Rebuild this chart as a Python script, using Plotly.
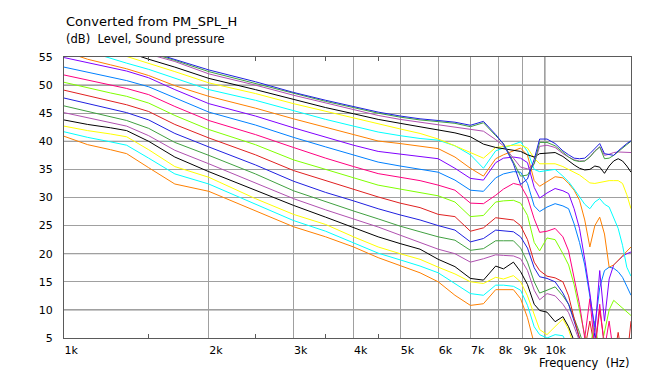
import math
import plotly.graph_objects as go

# ---------------- data ----------------
FREQ = [1000, 1120, 1250, 1350, 1500, 1700, 2000, 2500, 3000, 3500, 4000, 4500, 5000, 5500,
        6000, 6500, 7000, 7450, 7900, 8200, 8600, 8900, 9200, 9500, 9750, 10100, 10500, 10900,
        11200, 11500, 11800, 12100, 12400, 12700, 13000, 13300, 13600, 13900, 14200, 14500,
        14800, 15100]

S01 = [40.9, 39.4, 38.5, 37.8, 35.3, 32.4, 31.1, 27.7, 24.8, 23.0, 21.2, 19.3, 17.9, 16.6,
       15.0, 12.6, 10.8, 11.1, 13.6, 13.6, 13.6, 12.0, 8.6, 4.0, 2.5, 2.0, 1.5, 1.0, 1.0, 1.0,
       0.5, 0.5, 0.5, 0.5, 0.5, 0.5, 0.5, 0.5, 0.5, 0.5, 0.5, 0.5]
S02 = [41.7, 40.7, 39.9, 39.3, 37.0, 34.2, 32.4, 28.8, 25.9, 24.0, 22.0, 20.1, 18.9, 17.8,
       16.6, 14.7, 12.9, 12.6, 14.4, 14.4, 14.2, 13.5, 10.8, 7.0, 5.6, 5.0, 5.6, 5.4, 3.5, 1.5,
       1.0, 0.5, 0.5, 0.5, 0.5, 0.5, 0.5, 0.5, 0.5, 0.5, 0.5, 0.5]
S03 = [42.7, 41.9, 41.3, 40.8, 38.5, 35.5, 33.6, 29.8, 27.0, 25.2, 23.0, 21.2, 20.0, 19.0,
       17.6, 16.4, 15.0, 14.7, 15.8, 15.5, 16.1, 15.0, 12.5, 9.0, 6.5, 5.6, 7.0, 8.4, 6.5, 3.5,
       1.5, 1.0, 0.5, 0.5, 0.5, 0.5, 0.5, 0.5, 0.5, 0.5, 0.5, 0.5]
S04 = [43.8, 43.0, 42.4, 41.9, 40.0, 37.2, 34.6, 31.3, 28.6, 26.5, 24.6, 23.0, 21.8, 20.8,
       19.0, 17.7, 15.6, 15.3, 17.8, 17.3, 18.5, 16.8, 14.5, 11.0, 9.9, 9.6, 7.9, 8.8, 7.0, 4.5,
       2.0, 1.0, 0.5, 0.5, 0.5, 0.5, 0.5, 0.5, 0.5, 0.5, 0.5, 0.5]
S05 = [45.1, 44.2, 43.3, 42.7, 41.0, 38.4, 36.0, 32.6, 29.8, 27.8, 26.2, 24.75, 23.3, 22.0,
       20.8, 20.0, 18.5, 19.1, 19.8, 19.7, 19.6, 19.1, 17.0, 13.5, 11.8, 12.9, 12.5, 11.0, 9.5,
       7.0, 4.5, 2.0, 0.5, 3.0, 0.5, 0.5, 0.5, 0.5, 0.5, 0.5, 0.5, 0.5]
S06 = [46.3, 45.3, 44.3, 43.7, 42.3, 39.8, 37.5, 34.2, 31.2, 29.2, 27.6, 26.2, 24.9, 23.9,
       23.0, 22.4, 20.6, 20.9, 22.3, 22.3, 22.3, 21.0, 18.5, 15.0, 13.0, 13.5, 14.1, 12.5, 11.0,
       8.5, 6.0, 3.0, 0.5, 0.5, 4.0, 0.5, 0.5, 0.5, 0.5, 0.5, 0.5, 0.5]
S07 = [47.7, 46.7, 45.7, 45.1, 43.8, 41.4, 39.0, 35.8, 32.9, 30.9, 29.4, 28.0, 26.9, 26.0,
       25.0, 24.2, 22.1, 22.7, 24.2, 24.1, 23.9, 23.0, 21.0, 17.5, 15.9, 15.6, 15.0, 13.0, 11.0,
       8.0, 5.0, 2.0, 0.5, 6.0, 0.5, 0.5, 0.5, 0.5, 0.5, 0.5, 0.5, 0.5]
S08 = [49.1, 48.1, 47.1, 46.5, 45.3, 43.0, 40.6, 37.6, 34.8, 33.0, 31.5, 30.1, 29.0, 28.2,
       27.0, 26.6, 24.0, 24.6, 26.4, 26.2, 26.0, 25.0, 22.5, 18.5, 17.0, 16.0, 15.7, 15.0, 12.5,
       8.5, 5.0, 3.0, 8.0, 3.0, 10.0, 4.0, 1.0, 1.0, 6.0, 1.0, 1.0, 8.0]
S09 = [50.5, 49.5, 48.6, 48.0, 46.8, 44.6, 42.1, 39.4, 36.7, 35.0, 33.5, 32.2, 31.5, 30.9,
       30.3, 29.2, 26.6, 26.8, 29.2, 29.4, 29.5, 29.0, 26.8, 22.0, 20.5, 22.8, 22.5, 20.0, 18.0,
       14.5, 10.0, 5.5, 3.0, 8.0, 2.0, 6.0, 10.0, 11.7, 11.0, 10.2, 9.5, 9.0]
S10 = [51.8, 50.9, 50.0, 49.4, 48.3, 46.2, 43.7, 41.2, 38.9, 37.0, 35.5, 34.25, 33.6, 33.0,
       32.2, 31.3, 29.0, 28.9, 30.4, 31.5, 32.5, 32.2, 30.0, 26.2, 23.8, 24.0, 24.5, 23.0, 20.5,
       16.0, 11.0, 5.0, 12.0, 3.0, 11.0, 3.0, 8.0, 2.0, 5.0, 1.0, 1.0, 0.5]
S11 = [53.2, 52.3, 51.4, 50.8, 49.7, 47.7, 45.2, 42.9, 40.7, 39.0, 37.6, 36.3, 35.6, 35.0,
       34.5, 33.1, 31.3, 31.1, 33.5, 34.2, 34.6, 34.5, 32.5, 28.5, 27.5, 28.3, 28.9, 28.5, 28.0,
       25.3, 22.0, 18.0, 12.0, 7.0, 14.0, 17.0, 17.6, 17.4, 16.8, 15.8, 14.2, 12.6]
S12 = [54.9, 54.0, 53.1, 52.5, 51.3, 49.2, 46.7, 44.5, 42.4, 40.7, 39.3, 38.2, 37.7, 37.3,
       36.9, 35.2, 33.4, 33.1, 36.2, 37.0, 37.2, 37.0, 36.2, 31.8, 29.9, 30.8, 31.6, 31.2, 30.7,
       28.0, 24.5, 19.0, 13.0, 6.0, 17.0, 8.0, 15.5, 18.0, 18.8, 19.5, 20.0, 20.3]
S13 = [56.0, 54.6, 53.6, 52.9, 51.7, 49.9, 48.0, 45.9, 44.0, 42.5, 41.2, 40.05, 39.6, 39.15,
       38.7, 37.2, 35.2, 33.8, 36.9, 37.6, 38.3, 38.8, 37.5, 33.0, 32.0, 32.8, 33.7, 33.5, 32.5,
       31.3, 29.5, 26.0, 21.2, 25.0, 26.5, 23.5, 17.6, 18.0, 18.8, 19.5, 20.3, 21.2]
S14 = [57.3, 56.0, 54.7, 53.9, 52.8, 51.2, 49.2, 47.3, 45.4, 43.9, 42.7, 41.65, 41.0, 40.5,
       40.2, 39.2, 37.6, 35.2, 38.3, 38.8, 39.5, 39.9, 38.2, 35.0, 34.6, 34.8, 35.0, 33.8, 32.8,
       31.5, 30.2, 28.8, 28.0, 29.2, 29.8, 28.8, 28.3, 26.5, 24.5, 21.5, 17.6, 16.0]
S15 = [58.5, 57.3, 56.0, 55.1, 53.9, 52.4, 50.4, 48.5, 46.7, 45.3, 44.1, 43.1, 42.2, 41.4,
       40.4, 39.2, 38.0, 37.0, 38.9, 39.1, 39.3, 39.3, 38.8, 37.0, 36.0, 36.0, 36.0, 35.5, 35.0,
       34.5, 34.0, 33.3, 32.6, 32.5, 32.7, 32.8, 33.0, 33.0, 33.0, 32.5, 30.5, 28.0]
S16 = [59.3, 58.1, 56.9, 55.9, 54.6, 53.2, 51.2, 49.2, 47.5, 46.0, 44.9, 43.9, 43.2, 42.6,
       42.0, 41.5, 40.8, 39.5, 38.9, 38.7, 38.5, 38.2, 37.6, 37.2, 37.8, 37.9, 38.0, 37.3, 36.5,
       35.8, 35.2, 34.9, 35.0, 35.6, 35.4, 34.3, 35.6, 36.5, 36.9, 36.5, 35.6, 34.5]
S17 = [60.2, 59.0, 57.8, 56.9, 55.5, 54.2, 52.0, 50.0, 48.2, 46.8, 45.6, 44.6, 43.9, 43.4,
       43.0, 42.6, 42.25, 41.8, 40.3, 39.2, 37.0, 35.4, 35.1, 36.0, 39.1, 39.3, 38.9, 37.8, 37.2,
       36.7, 36.5, 36.5, 37.2, 38.3, 39.0, 37.5, 37.7, 38.0, 38.1, 38.1, 38.1, 38.0]
S18 = [60.5, 59.3, 58.1, 57.2, 55.8, 54.4, 52.4, 50.3, 48.5, 47.1, 46.0, 45.0, 44.3, 43.8,
       43.5, 43.2, 42.6, 43.3, 41.0, 39.6, 36.3, 33.8, 34.0, 36.0, 39.8, 39.8, 39.2, 38.0, 37.2,
       36.6, 36.4, 36.5, 37.2, 38.2, 39.0, 36.9, 37.0, 37.5, 38.2, 38.8, 39.4, 40.0]
S19 = [60.7, 59.5, 58.3, 57.4, 56.0, 54.6, 52.7, 50.6, 48.7, 47.3, 46.2, 45.2, 44.5, 44.0,
       43.7, 43.4, 42.85, 43.55, 41.2, 39.5, 36.0, 32.3, 33.3, 36.8, 40.4, 40.4, 39.6, 38.3, 37.6,
       37.0, 36.9, 37.0, 37.8, 38.8, 39.6, 37.8, 37.6, 37.5, 38.3, 39.0, 39.6, 40.1]

SERIES = [S01, S02, S03, S04, S05, S06, S07, S08, S09, S10,
          S11, S12, S13, S14, S15, S16, S17, S18, S19]

PALETTE = ["#FF8000", "#00FFFF", "#FFFF00", "#000000", "#B050B0", "#40A040",
           "#2020E0", "#E02020", "#80FF00", "#FF0080", "#0080FF", "#8000FF"]

X_TICKS = [1000, 2000, 3000, 4000, 5000, 6000, 7000, 8000, 9000, 10000]
X_LABELS = ["1k", "2k", "3k", "4k", "5k", "6k", "7k", "8k", "9k", "10k"]
X_MINOR = [1500, 2500, 3500, 4500]
X_MAJOR_GRID = [10000]
Y_TICKS = [5, 10, 15, 20, 25, 30, 35, 40, 45, 50, 55]
Y_MAJOR_GRID = [10, 20, 30, 40, 50]
X_MIN, X_MAX = 1000, 15100
Y_MIN, Y_MAX = 5, 55

TITLE = "Converted from PM_SPL_H"
SUBTITLE = "(dB)\u00a0\u00a0Level, Sound pressure"
XTITLE = "Frequency\u00a0\u00a0(Hz)"

# ---------------- figure ----------------
FONT = "DejaVu Sans, Verdana, sans-serif"
LIGHT = "#A0A0A0"
DARK = "#6E6E6E"
FRAME = "#5A5A5A"

fig = go.Figure()
for i, vals in enumerate(SERIES):
    fig.add_trace(go.Scatter(
        x=FREQ, y=vals, mode="lines",
        line=dict(color=PALETTE[i % len(PALETTE)], width=1),
        showlegend=False, hoverinfo="skip"))

shapes = []
for v in Y_MAJOR_GRID:
    shapes.append(dict(type="line", xref="paper", x0=0, x1=1, yref="y", y0=v, y1=v,
                       line=dict(color=DARK, width=1), layer="between"))
for v in X_MAJOR_GRID:
    shapes.append(dict(type="line", yref="paper", y0=0, y1=1, xref="x", x0=v, x1=v,
                       line=dict(color=DARK, width=1), layer="between"))

# the page body has an 8px margin, so the figure is 8px smaller on each axis
fig.update_layout(
    width=646, height=366,
    margin=dict(l=56, r=23, t=49, b=36, pad=0, autoexpand=False),
    paper_bgcolor="white", plot_bgcolor="white",
    font=dict(family=FONT, size=11, color="#000000"),
    showlegend=False,
    shapes=shapes,
    xaxis=dict(
        type="log", range=[math.log10(X_MIN), math.log10(X_MAX)],
        tickmode="array", tickvals=X_TICKS, ticktext=X_LABELS, tickangle=0,
        showgrid=True, gridcolor=LIGHT, gridwidth=1,
        showline=True, linecolor=FRAME, linewidth=1, mirror="ticks",
        ticks="", ticklabelposition="outside right", ticklabelstandoff=2,
        tickfont=dict(family=FONT, size=11, color="#000000"),
        minor=dict(tickvals=X_MINOR, ticks="inside", ticklen=4,
                   tickcolor=FRAME, tickwidth=1, showgrid=False),
        zeroline=False, fixedrange=True, automargin=False,
    ),
    yaxis=dict(
        range=[Y_MIN, Y_MAX],
        tickmode="array", tickvals=Y_TICKS,
        showgrid=True, gridcolor=LIGHT, gridwidth=1,
        showline=True, linecolor=FRAME, linewidth=1, mirror=True,
        ticks="", ticklabelstandoff=8,
        tickfont=dict(family=FONT, size=11, color="#000000"),
        zeroline=False, fixedrange=True, automargin=False,
    ),
    annotations=[
        dict(text=TITLE, xref="paper", yref="paper", x=0, y=1.125,
             xanchor="left", yanchor="middle", showarrow=False,
             font=dict(family=FONT, size=13, color="#000000")),
        dict(text=SUBTITLE, xref="paper", yref="paper", x=0, y=1.064,
             xanchor="left", yanchor="middle", showarrow=False,
             font=dict(family=FONT, size=11.5, color="#000000")),
        dict(text=XTITLE, xref="paper", yref="paper", x=1.0, y=-0.089,
             xanchor="right", yanchor="middle", showarrow=False,
             font=dict(family=FONT, size=11.5, color="#000000")),
    ],
)

fig.write_html("out.html")
